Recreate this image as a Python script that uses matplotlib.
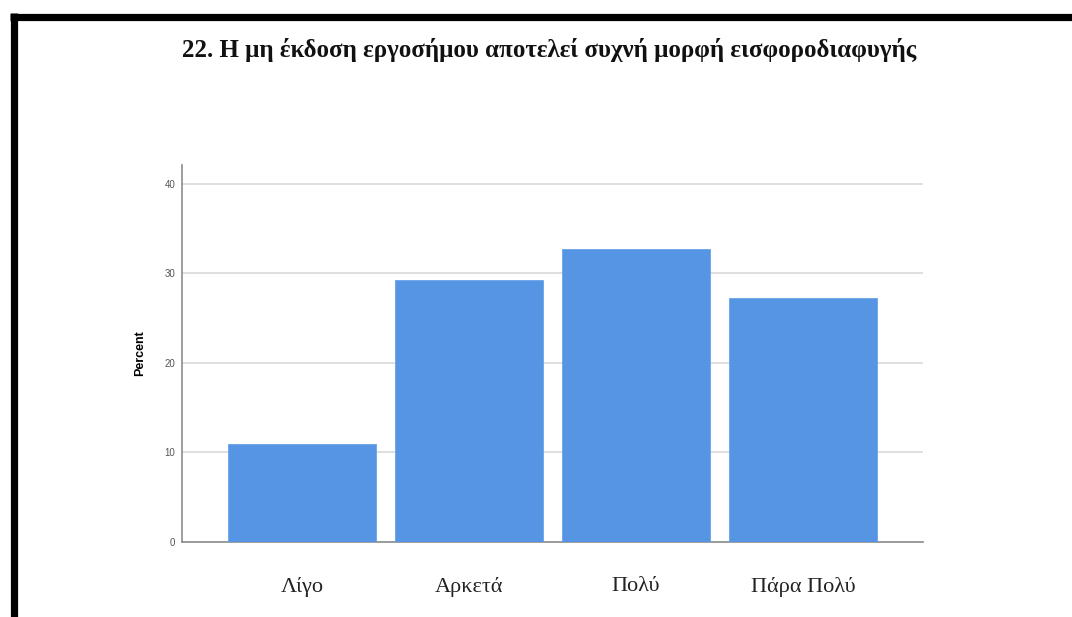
import matplotlib.pyplot as plt
from matplotlib.lines import Line2D

# data
categories = ["Λίγο", "Αρκετά", "Πολύ", "Πάρα Πολύ"]
percent = [10.9, 29.3, 32.7, 27.2]
yticks = [0, 10, 20, 30, 40]

title = "22. Η μη έκδοση εργοσήμου αποτελεί συχνή μορφή εισφοροδιαφυγής"

fig = plt.figure(figsize=(10.72, 6.17), dpi=100)
ax = fig.add_axes([0.1698, 0.1216, 0.6912, 0.611])

x = list(range(len(categories)))
ax.bar(x, percent, width=0.89, color="#5595e3", edgecolor="#6aa3e8", linewidth=0.6, zorder=3)

ax.set_xlim(-0.72, 3.72)
ax.set_ylim(0, 42.1)
ax.set_yticks(yticks)
ax.set_yticklabels([str(t) for t in yticks], fontsize=7, color="#555555", family="Liberation Sans")
ax.set_xticks(x)
ax.set_xticklabels(categories, fontsize=16, family="Liberation Serif", color="#222222")
ax.tick_params(axis="x", length=0, pad=25)
ax.tick_params(axis="y", length=0, pad=5)
ax.grid(axis="y", color="#d9d9d9", linewidth=1.2, zorder=0)

for side in ["top", "right"]:
    ax.spines[side].set_visible(False)
for side in ["left", "bottom"]:
    ax.spines[side].set_color("#8c8c8c")
    ax.spines[side].set_linewidth(1.2)

ax.set_ylabel("Percent", fontsize=9, fontweight="bold", family="Liberation Sans", labelpad=13)

fig.text(0.512, 0.919, title, ha="center", va="center", fontsize=18,
         fontweight="bold", family="Liberation Serif", color="#111111")

# black frame of the screenshot (top and left edges)
fig.add_artist(Line2D([10 / 1072, 1.0], [1 - 16.5 / 617, 1 - 16.5 / 617],
                      transform=fig.transFigure, color="black", linewidth=5.2,
                      solid_capstyle="butt"))
fig.add_artist(Line2D([13.5 / 1072, 13.5 / 1072], [0, 1 - 13 / 617],
                      transform=fig.transFigure, color="black", linewidth=5.2,
                      solid_capstyle="butt"))

fig.savefig("out.png", dpi=100)
